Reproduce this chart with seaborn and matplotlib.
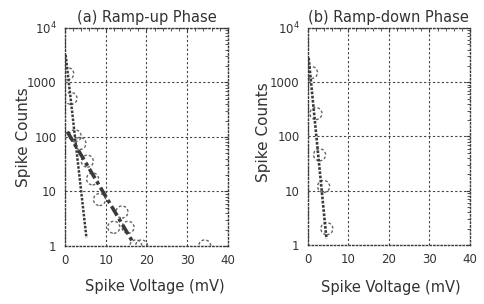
import numpy as np
import pandas as pd
import seaborn as sns
import matplotlib.pyplot as plt
from matplotlib.ticker import FixedLocator, MultipleLocator, LogLocator, NullFormatter

# data
up_v = [0.7, 1.5, 2.5, 3.7, 5.5, 6.8, 8.5, 12.0, 14.0, 15.5, 17.4, 18.8, 34.3]
up_n = [1450, 510, 105, 76, 36, 17, 7.1, 2.2, 4.2, 2.2, 1, 1, 1]
down_v = [0.9, 2.0, 2.9, 3.9, 4.7]
down_n = [1510, 265, 46, 12, 2]

# fitted lines (end points)
up_fast_v = [0.2, 5.3]
up_fast_n = [3200, 1.4]
up_slow_v = [0.6, 16.6]
up_slow_n = [125, 1.2]
down_fit_v = [0.2, 4.6]
down_fit_n = [2800, 1.3]

sns.set_style("white")
plt.rcParams['font.family'] = ['DejaVu Sans']

fig = plt.figure(figsize=(4.84, 3.04), dpi=100)
ax1 = fig.add_axes([0.134, 0.191, 0.337, 0.717])
ax2 = fig.add_axes([0.636, 0.194, 0.335, 0.714])

ink = "#3a3a3a"


def style(ax, title, xlab, ylab):
    ax.set_yscale("log")
    ax.set_xlim(0, 40)
    ax.set_ylim(1, 1e4)
    ax.xaxis.set_major_locator(FixedLocator([0, 10, 20, 30, 40]))
    ax.xaxis.set_minor_locator(MultipleLocator(2))
    ax.yaxis.set_major_locator(FixedLocator([1, 10, 100, 1000, 10000]))
    ax.yaxis.set_minor_locator(LogLocator(base=10, subs=np.arange(2, 10)))
    ax.yaxis.set_minor_formatter(NullFormatter())
    ax.set_yticklabels(["1", "10", "100", "1000", r"$10^4$"])
    ax.tick_params(which="both", direction="in", top=True, right=True,
                   color=ink, labelsize=8.5, labelcolor="#333333")
    ax.tick_params(which="major", length=3, width=0.8, pad=6)
    ax.tick_params(which="minor", length=2, width=0.6)
    ax.grid(True, which="major", linestyle=(0, (2, 2)), color="#444444", linewidth=0.8)
    for s in ax.spines.values():
        s.set_linestyle(":")
        s.set_color(ink)
        s.set_linewidth(1.0)
    ax.set_title(title, fontsize=10.5, color="#333333", pad=4)
    ax.set_xlabel("Spike Voltage (mV)", fontsize=10.5, color="#333333")
    ax.xaxis.set_label_coords(*xlab)
    ax.set_ylabel("Spike Counts", fontsize=11, color="#333333")
    ax.yaxis.set_label_coords(*ylab)


# panel (a)
sns.lineplot(x=up_fast_v, y=up_fast_n, ax=ax1, color=ink, linewidth=1.8,
             linestyle=(0, (1, 0.6)))
sns.lineplot(x=up_slow_v, y=up_slow_n, ax=ax1, color=ink, linewidth=2.6,
             linestyle=(0, (3, 1, 1, 1)))
sns.scatterplot(x=up_v, y=up_n, ax=ax1, s=75, facecolor="none",
                edgecolor="#666666", linewidth=1.0, linestyle=(0, (2, 1.5)))
style(ax1, "(a) Ramp-up Phase", (0.55, -0.15), (-0.21, 0.5))

# panel (b)
sns.lineplot(x=down_fit_v, y=down_fit_n, ax=ax2, color=ink, linewidth=1.9,
             linestyle=(0, (1, 0.6)))
sns.scatterplot(x=down_v, y=down_n, ax=ax2, s=75, facecolor="none",
                edgecolor="#666666", linewidth=1.0, linestyle=(0, (2, 1.5)))
style(ax2, "(b) Ramp-down Phase", (0.51, -0.16), (-0.225, 0.52))

fig.savefig("out.png", dpi=100)
